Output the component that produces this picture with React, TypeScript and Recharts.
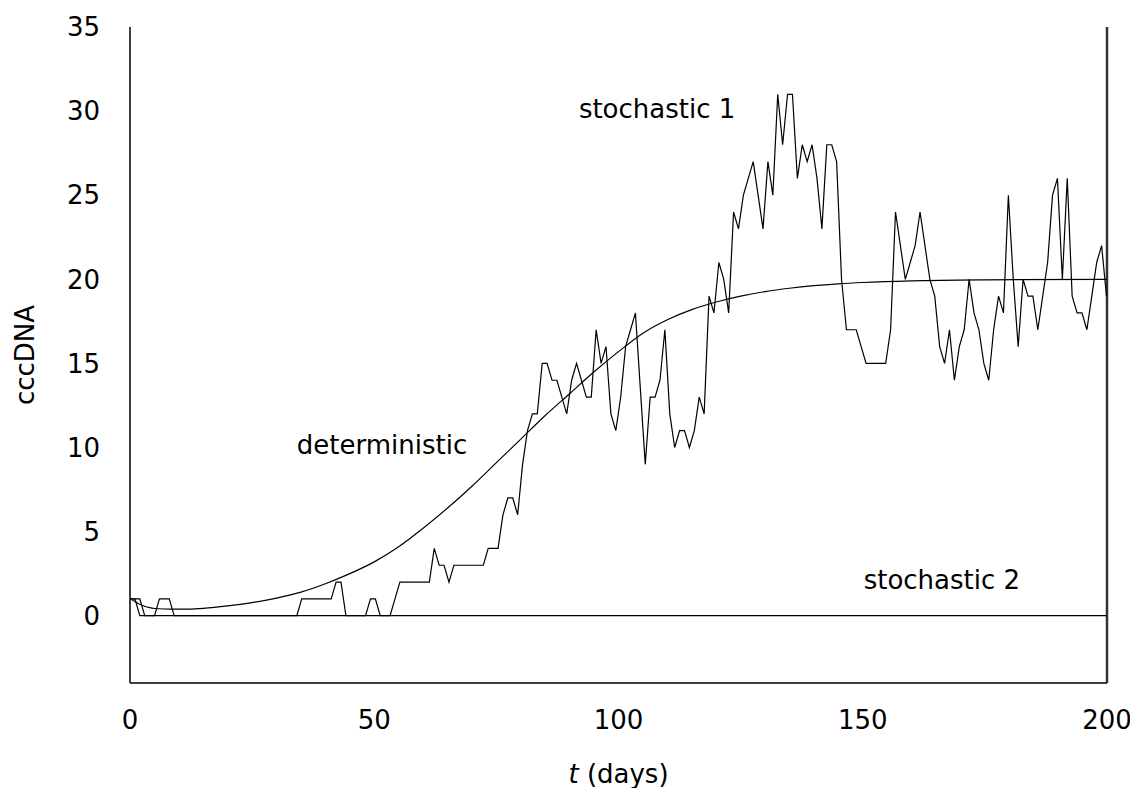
import React from 'react';
import { LineChart, Line, XAxis, YAxis, ReferenceLine, ReferenceDot } from 'recharts';

// stochastic trajectory 1, one value per sample step
const stoch1 = [
  1, 1, 0, 0, 0, 0, 1, 1, 1, 0,
  0, 0, 0, 0, 0, 0, 0, 0, 0, 0,
  0, 0, 0, 0, 0, 0, 0, 0, 0, 0,
  0, 0, 0, 0, 0, 1, 1, 1, 1, 1,
  1, 1, 2, 2, 0, 0, 0, 0, 0, 1,
  1, 0, 0, 0, 1, 2, 2, 2, 2, 2,
  2, 2, 4, 3, 3, 2, 3, 3, 3, 3,
  3, 3, 3, 4, 4, 4, 6, 7, 7, 6,
  9, 11, 12, 12, 15, 15, 14, 14, 13, 12,
  14, 15, 14, 13, 13, 17, 15, 16, 12, 11,
  13, 16, 17, 18, 13.5, 9, 13, 13, 14, 17,
  12, 10, 11, 11, 10, 11, 13, 12, 19, 18,
  21, 20, 18, 24, 23, 25, 26, 27, 25, 23,
  27, 25, 31, 28, 31, 31, 26, 28, 27, 28,
  26, 23, 28, 28, 27, 20, 17, 17, 17, 16,
  15, 15, 15, 15, 15, 17, 24, 22, 20, 21,
  22, 24, 22, 20, 19, 16, 15, 17, 14, 16,
  17, 20, 18, 17, 15, 14, 17, 19, 18, 25,
  20, 16, 20, 19, 19, 17, 19, 21, 25, 26,
  20, 26, 19, 18, 18, 17, 19, 21, 22, 19,
];

// stochastic trajectory 2 (extinct): vertices only
const stoch2Idx = [0, 2, 3, 199];
const stoch2Val = [1, 1, 0, 0];

// deterministic solution
const detT = [0, 1, 2, 3, 4, 5, 7, 10, 15, 20, 25, 30, 35, 40, 45, 50, 55, 60, 65, 70, 75, 80, 85, 90, 95, 100, 105, 110, 115, 120, 125, 130, 135, 140, 145, 150, 160, 175, 200];
const detV = [1.0, 0.85, 0.68, 0.56, 0.48, 0.43, 0.4, 0.39, 0.44, 0.58, 0.78, 1.05, 1.4, 1.9, 2.5, 3.2, 4.1, 5.2, 6.4, 7.7, 9.1, 10.5, 11.9, 13.2, 14.5, 15.7, 16.8, 17.6, 18.2, 18.65, 19.0, 19.27, 19.47, 19.62, 19.73, 19.81, 19.91, 19.97, 20.0];

const xTicks = [0, 50, 100, 150, 200];
const yTicks = [0, 5, 10, 15, 20, 25, 30, 35];

const annotations = [
  { text: 'stochastic 1', t: 107.9, v: 30.1 },
  { text: 'deterministic', t: 51.6, v: 10.16 },
  { text: 'stochastic 2', t: 166.2, v: 2.14 },
];

const FONT = '"DejaVu Sans", Verdana, sans-serif';
const FS = 26;

const s1Rows = stoch1.map((v, i) => ({ k: i, v }));
const s2Rows = stoch2Idx.map((k, i) => ({ k, v: stoch2Val[i] }));
const detRows = detT.map((t, i) => ({ t, v: detV[i] }));

export default function App() {
  return (
    <div style={{ width: 1122, height: 780 }}>
      <style>{'.recharts-surface{overflow:visible}'}</style>
      <LineChart width={1122} height={780} margin={{ top: 19, right: 23, left: 0, bottom: 0 }}>
        <XAxis
          xAxisId="t"
          type="number"
          dataKey="t"
          domain={[0, 200]}
          ticks={xTicks}
          allowDataOverflow
          height={105}
          tickLine={false}
          tickSize={0}
          tickMargin={28}
          axisLine={{ stroke: '#000', strokeWidth: 1.5 }}
          tick={{ fill: '#000', fontSize: FS, fontFamily: FONT }}
          label={{
            content: (p: any) => {
              const vb = p.viewBox || {};
              return (
                <text
                  x={vb.x + vb.width / 2}
                  y={vb.y + 100}
                  textAnchor="middle"
                  fontSize={FS}
                  fontFamily={FONT}
                  fill="#000"
                >
                  <tspan fontStyle="italic">t</tspan>
                  <tspan> (days)</tspan>
                </text>
              );
            },
          }}
        />
        <XAxis xAxisId="k" type="number" dataKey="k" domain={[0, 199.1]} hide height={0} allowDataOverflow />
        <YAxis
          type="number"
          domain={[-4, 35]}
          ticks={yTicks}
          allowDataOverflow
          width={122}
          tickLine={false}
          tickSize={0}
          tickMargin={30}
          axisLine={{ stroke: '#000', strokeWidth: 1.5 }}
          tick={{ fill: '#000', fontSize: FS, fontFamily: FONT }}
          label={{
            content: (p: any) => {
              const vb = p.viewBox || {};
              const cy = vb.y + vb.height / 2;
              return (
                <text
                  x={17}
                  y={cy}
                  transform={`rotate(-90, 17, ${cy})`}
                  textAnchor="middle"
                  dominantBaseline="central"
                  fontSize={FS}
                  fontFamily={FONT}
                  fill="#000"
                >
                  cccDNA
                </text>
              );
            },
          }}
        />
        <ReferenceLine xAxisId="t" x={200} stroke="#333" strokeWidth={2.5} />
        <Line
          xAxisId="k"
          data={s2Rows}
          dataKey="v"
          type="linear"
          stroke="#000"
          strokeWidth={1.2}
          dot={false}
          isAnimationActive={false}
        />
        <Line
          xAxisId="t"
          data={detRows}
          dataKey="v"
          type="monotone"
          stroke="#000"
          strokeWidth={1.2}
          dot={false}
          isAnimationActive={false}
        />
        <Line
          xAxisId="k"
          data={s1Rows}
          dataKey="v"
          type="linear"
          stroke="#000"
          strokeWidth={1.2}
          dot={false}
          isAnimationActive={false}
        />
        {annotations.map((a) => (
          <ReferenceDot
            key={a.text}
            xAxisId="t"
            x={a.t}
            y={a.v}
            r={0}
            isFront
            shape={(p: any) => (
              <text
                x={p.cx}
                y={p.cy}
                textAnchor="middle"
                dominantBaseline="central"
                fontSize={FS}
                fontFamily={FONT}
                fill="#000"
              >
                {a.text}
              </text>
            )}
          />
        ))}
      </LineChart>
    </div>
  );
}
